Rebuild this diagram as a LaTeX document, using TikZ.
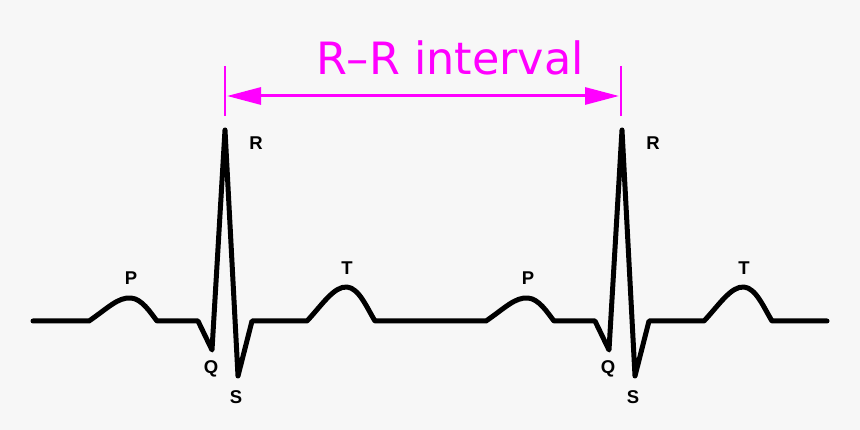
\documentclass[tikz,border=0pt]{standalone}
\usepackage{fontspec}
\setmainfont{Liberation Sans}
\newfontfamily\dejavu{DejaVu Sans}
\usetikzlibrary{arrows.meta}
\definecolor{bg}{RGB}{247,247,247}
\definecolor{mag}{RGB}{255,0,255}
\tikzset{
  ecg/.style={line width=5pt, line join=round, line cap=round, black},
  wavelbl/.style={font=\fontsize{18.5}{18.5}\selectfont\bfseries, inner sep=0pt, anchor=base},
  tick/.style={mag, line width=2.5pt},
  rrarrow/.style={mag, line width=3pt, {Triangle[length=34pt,width=17pt]}-{Triangle[length=34pt,width=17pt]}}
}
\begin{document}
\begin{tikzpicture}[x=1pt,y=-1pt]
\fill[bg] (0,0) rectangle (860,430);
\useasboundingbox (0,0) rectangle (860,430);
% ECG trace
\draw[ecg] (33,321) -- (89,321)
  .. controls (108,308) and (118,297) .. (131,298)
  .. controls (142,299) and (150,312) .. (157,321)
  -- (198,321) -- (212,350) -- (225,130) -- (238,376) -- (252,321) -- (307,321)
  .. controls (322,305) and (334,286) .. (347,287)
  .. controls (359,288) and (367,308) .. (375,321)
  -- (486,321)
  .. controls (505,308) and (515,297) .. (528,298)
  .. controls (539,299) and (547,312) .. (554,321)
  -- (595,321) -- (609,350) -- (622,130) -- (635,376) -- (649,321) -- (704,321)
  .. controls (719,305) and (731,286) .. (744,287)
  .. controls (756,288) and (764,308) .. (772,321)
  -- (827,321);
% labels
\node[wavelbl] (p1) at (131,285) {P};
\node[wavelbl] (r1) at (256,150) {R};
\node[wavelbl] (q1) at (211,374) {Q};
\node[wavelbl] (s1) at (236,403) {S};
\node[wavelbl] (t1) at (347,275) {T};
\node[wavelbl] (p2) at (528,285) {P};
\node[wavelbl] (r2) at (653,150) {R};
\node[wavelbl] (q2) at (608,374) {Q};
\node[wavelbl] (s2) at (633,403) {S};
\node[wavelbl] (t2) at (744,275) {T};
% R-R interval
\coordinate (lt) at (225,66);
\coordinate (lb) at (225,116);
\coordinate (rt) at (621,66);
\coordinate (rb) at (621,116);
\coordinate (la) at (227,96);
\coordinate (ra) at (619,96);
\draw[tick] (lt) -- (lb);
\draw[tick] (rt) -- (rb);
\draw[rrarrow] (la) -- (ra);
\node[mag, font=\dejavu\fontsize{44.5}{44.5}\selectfont, anchor=base, inner sep=0pt] (rr) at (450,75) {R–R interval};
\end{tikzpicture}
\end{document}
